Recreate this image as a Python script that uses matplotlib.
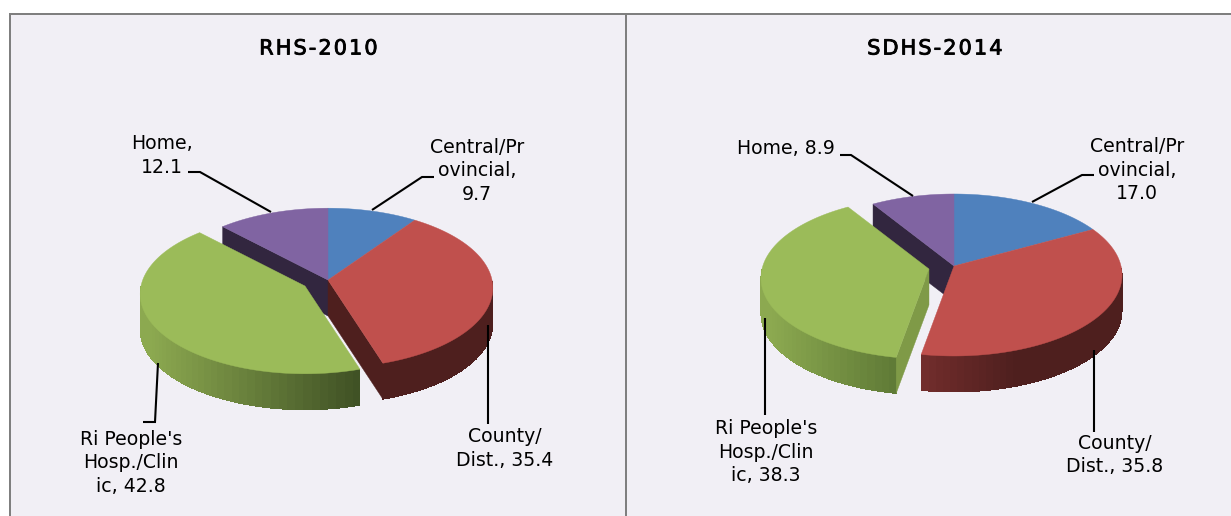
import numpy as np
import matplotlib
matplotlib.use('Agg')
import matplotlib.pyplot as plt
from matplotlib.patches import Polygon, Rectangle
from matplotlib.colors import to_rgb
import matplotlib.patheffects as pe

titles = ['RHS-2010', 'SDHS-2014']
values_2010 = [9.7, 35.4, 42.8, 12.1]
values_2014 = [17.0, 35.8, 38.3, 8.9]
labels_2010 = ['Central/Pr\novincial,\n9.7', 'County/\nDist., 35.4',
               "Ri People's\nHosp./Clin\nic, 42.8", 'Home,\n12.1']
labels_2014 = ['Central/Pr\novincial,\n17.0', 'County/\nDist., 35.8',
               "Ri People's\nHosp./Clin\nic, 38.3", 'Home, 8.9']
top_colors = ['#4f81bd', '#c0504d', '#9bbb59', '#8064a2']
cut_colors = ['#2a4466', '#4e1f1e', '#7f9a47', '#32263f']

BG = '#f1eff5'
BORDER = '#7f7f7f'
FONT = 'DejaVu Sans'


def project(ang, cx, cy, a, b, k):
    # clockwise from the top, far side of the pie a bit smaller
    u = np.sin(ang)
    v = np.cos(ang)
    d = 1 + k * v
    return cx + a * u / d, cy - b * v / d


def mix(c1, c2, t):
    c1 = np.array(to_rgb(c1))
    c2 = np.array(to_rgb(c2))
    return tuple(c1 + (c2 - c1) * min(max(t, 0), 1))


def wall(ax, t0, t1, geo, depth, grad, z):
    ts = np.linspace(t0, t1, 60)
    ts = ts[np.cos(ts) < 0.0]
    if len(ts) < 2:
        return
    xs, ys = project(ts, *geo)
    # solid shape first so that the seams between strips do not show
    outline = list(zip(xs, ys)) + list(zip(xs[::-1], ys[::-1] + depth))
    c0 = mix(grad[0], grad[1], 0.5)
    ax.add_patch(Polygon(outline, closed=True, fc=c0, ec='none', zorder=z))
    for i in range(len(ts) - 1):
        xm = (xs[i] + xs[i + 1]) / 2
        c = mix(grad[0], grad[1], (xm - grad[2]) / (grad[3] - grad[2]))
        q = [(xs[i], ys[i]), (xs[i + 1], ys[i + 1]),
             (xs[i + 1], ys[i + 1] + depth), (xs[i], ys[i] + depth)]
        ax.add_patch(Polygon(q, closed=True, fc=c, ec='none', antialiased=False, zorder=z))


def cut(ax, t, geo, depth, color, z):
    x, y = project(t, *geo)
    q = [(geo[0], geo[1]), (x, y), (x, y + depth), (geo[0], geo[1] + depth)]
    ax.add_patch(Polygon(q, closed=True, fc=color, ec=color, lw=0.3, zorder=z))


def top(ax, t0, t1, geo, color, z):
    ts = np.linspace(t0, t1, 120)
    xs, ys = project(ts, *geo)
    pts = [(geo[0], geo[1])] + list(zip(xs, ys))
    ax.add_patch(Polygon(pts, closed=True, fc=color, ec=color, lw=0.3, zorder=z))


def pie3d(ax, values, cx, cy, a, b, k, shift, depth, red_grad, green_grad):
    edges = np.concatenate([[0], np.cumsum(values)]) / np.sum(values) * 2 * np.pi
    geo = (cx, cy, a, b, k)
    geo_g = (cx + shift[0], cy + shift[1], a, b, k)
    # back to front: home, central, county, then the pulled out slice
    cut(ax, edges[3], geo, depth, cut_colors[3], 2)
    top(ax, edges[0], edges[1], geo, top_colors[0], 3)
    wall(ax, edges[1], edges[2], geo, depth, red_grad, 4)
    if edges[2] < np.pi:
        cut(ax, edges[2], geo, depth, cut_colors[1], 4)
    top(ax, edges[1], edges[2], geo, top_colors[1], 5)
    top(ax, edges[3], edges[4], geo, top_colors[3], 5)
    wall(ax, edges[2], edges[3], geo_g, depth, green_grad, 6)
    if edges[2] > np.pi:
        cut(ax, edges[2], geo_g, depth, cut_colors[2], 6)
    top(ax, edges[2], edges[3], geo_g, top_colors[2], 7)


def leader(ax, pts):
    xs, ys = zip(*pts)
    ax.plot(xs, ys, color='black', lw=1.5, solid_capstyle='butt', solid_joinstyle='miter', zorder=9)


fig = plt.figure(figsize=(12.31, 5.16), dpi=100, facecolor='white')
ax = fig.add_axes([0, 0, 1, 1])
ax.set_xlim(0, 1231)
ax.set_ylim(516, 0)
ax.axis('off')

ax.add_patch(Rectangle((11, 15), 1220, 501, fc=BG, ec='none', zorder=0))
ax.add_patch(Rectangle((9, 13), 1222, 2, fc=BORDER, ec='none', zorder=1))
ax.add_patch(Rectangle((9, 13), 2, 503, fc=BORDER, ec='none', zorder=1))
ax.add_patch(Rectangle((625, 13), 2, 503, fc=BORDER, ec='none', zorder=1))

pie3d(ax, values_2010, 328, 280, 164, 79, 0.10, (-23, 6), 36,
      ('#4e1f1e', '#4e1f1e', 0, 1), ('#8ca950', '#3f5024', 150, 360))
pie3d(ax, values_2014, 954, 266, 167, 80, 0.111, (-25, 3), 36,
      ('#722d2c', '#4e1f1e', 922, 1015), ('#8ca950', '#5f7a36', 770, 895))

for t, x in zip(titles, [318.5, 935]):
    ax.text(x, 48.5, '\u200a'.join(t), ha='center', va='center', fontsize=15, family=FONT, color='black', zorder=10,
            path_effects=[pe.withStroke(linewidth=0.6, foreground='black')])

pos_2010 = [(477, 171), (505, 448.5), (131, 463), (162, 155.5)]
pos_2014 = [(1137, 170), (1115, 455), (766, 452), (786, 149)]
for lab, p in zip(labels_2010, pos_2010):
    ax.text(p[0], p[1], lab, ha='center', va='center', fontsize=13.6, family=FONT,
            linespacing=1.27, color='black', zorder=10)
for lab, p in zip(labels_2014, pos_2014):
    ax.text(p[0], p[1], lab, ha='center', va='center', fontsize=13.6, family=FONT,
            linespacing=1.27, color='black', zorder=10)

leader(ax, [(188, 172), (200, 172), (271, 212)])
leader(ax, [(434, 177), (422, 177), (372, 210)])
leader(ax, [(488, 325), (488, 424)])
leader(ax, [(158, 363), (155, 422), (143, 422)])
leader(ax, [(840, 155), (851, 155), (913, 196)])
leader(ax, [(1094, 175), (1082, 175), (1032, 202)])
leader(ax, [(1094, 350), (1094, 432)])
leader(ax, [(765, 318), (765, 415)])

fig.savefig('out.png', dpi=100, facecolor='white')
